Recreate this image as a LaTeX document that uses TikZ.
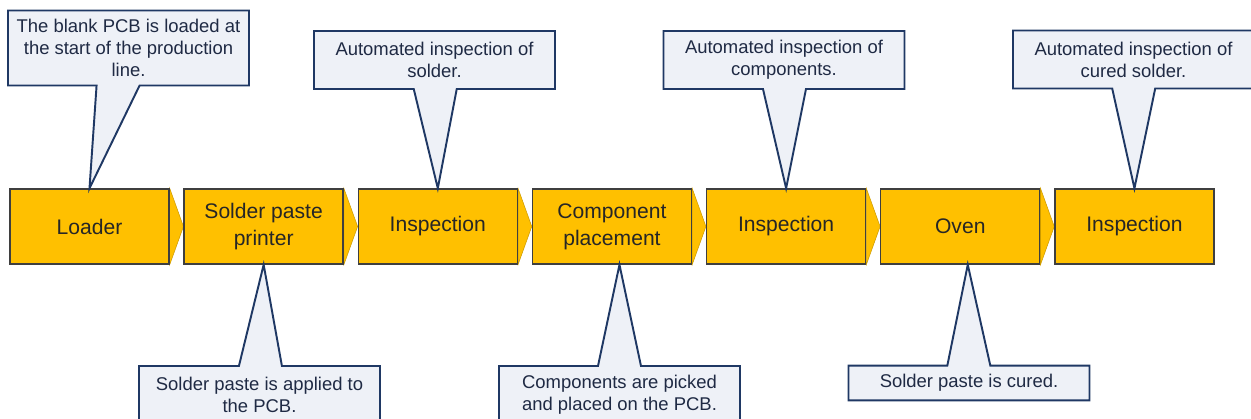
\documentclass[tikz,border=0pt]{standalone}
\usepackage{fontspec}
\setmainfont{Liberation Sans}
\usetikzlibrary{positioning,shapes.callouts,backgrounds}
\definecolor{stepyellow}{HTML}{FFC000}
\definecolor{stepedge}{HTML}{3F3F3F}
\definecolor{notefill}{HTML}{EEF1F7}
\definecolor{noteedge}{HTML}{1F3864}
\definecolor{notetext}{HTML}{1F2A44}

\begin{document}
\begin{tikzpicture}
[stepbox/.style={rectangle,draw=stepedge,fill=stepyellow,line width=0.8pt,
   minimum width=3.18cm,minimum height=1.5cm,align=center,
   font=\fontsize{12}{15.3}\selectfont,text=black!85},
 notebox/.style={rectangle callout,draw=noteedge,fill=notefill,line width=1.1pt,
   minimum width=4.82cm,minimum height=1.16cm,align=center,inner ysep=5pt,
   callout pointer width=0.86cm,font=\fontsize{10.5}{12.5}\selectfont,text=notetext},
 chevron/.style={fill=stepyellow,draw=stepyellow!80!black,line width=0.3pt},
 node distance=0.275cm]
\useasboundingbox (0,0) rectangle (25.02,-8.38);
\clip (0,0) rectangle (25.02,-8.38);
%% process steps
\node (loader) at (1.79,-4.53) [stepbox] {Loader};
\node (printer) [stepbox,right=of loader] {Solder paste\\printer};
\node (solderaoi) [stepbox,right=of printer] {Inspection};
\node (placer) [stepbox,right=of solderaoi] {Component\\placement};
\node (placeaoi) [stepbox,right=of placer] {Inspection};
\node (oven) [stepbox,right=of placeaoi] {Oven};
\node (finalaoi) [stepbox,right=of oven] {Inspection};
%% chevrons between the steps
\begin{scope}[on background layer]
\foreach \a/\b in {loader/printer, printer/solderaoi, solderaoi/placer,
  placer/placeaoi, placeaoi/oven, oven/finalaoi}
{
  \path[chevron] (\a.north east) -- (\b.west) -- (\a.south east) -- cycle;
}
\end{scope}
%% notes above
\node (loadnote) at (2.57,-0.96) [notebox,callout absolute pointer=(loader.north)]
  {The blank PCB is loaded at\\the start of the production\\line.};
\node (soldernote) at (8.69,-1.20) [notebox,callout absolute pointer=(solderaoi.north)]
  {Automated inspection of\\solder.};
\node (compnote) at (15.68,-1.20) [notebox,callout absolute pointer=(placeaoi.north)]
  {Automated inspection of\\components.};
\node (curednote) at (22.67,-1.19) [notebox,callout absolute pointer=(finalaoi.north)]
  {Automated inspection of\\cured solder.};
%% notes below
\node (pastenote) at (5.19,-7.90) [notebox,callout absolute pointer=(printer.south)]
  {Solder paste is applied to\\the PCB.};
\node (picknote) at (12.39,-7.90)
  [notebox,callout absolute pointer={([xshift=0.15cm]placer.south)}]
  {Components are picked\\and placed on the PCB.};
\node (ovennote) at (19.38,-7.66)
  [notebox,minimum height=0.68cm,callout absolute pointer={([xshift=0.15cm]oven.south)}]
  {Solder paste is cured.};
\end{tikzpicture}
\end{document}
